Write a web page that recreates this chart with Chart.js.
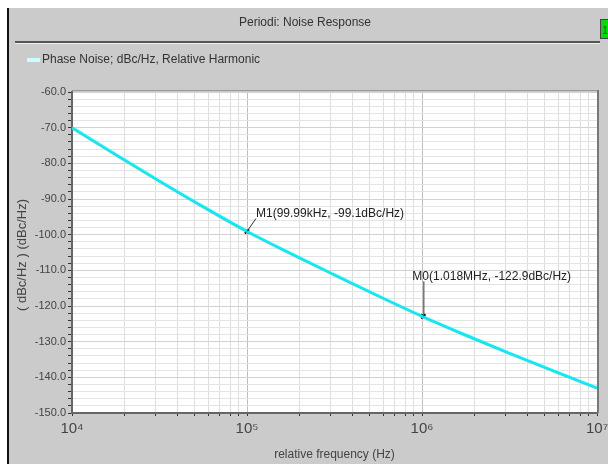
<!DOCTYPE html>
<html>
<head>
<meta charset="utf-8">
<style>
  html, body { margin: 0; padding: 0; background: #ffffff; }
  #wrap { width: 608px; height: 464px; }
</style>
<script src="https://cdn.jsdelivr.net/npm/chart.js@4"></script>
</head>
<body>
<div id="wrap"><canvas id="noiseChart" width="608" height="464"></canvas></div>
<script>
// phase noise curve (Hz, dBc/Hz)
const freqs = [1e4, 1.778e4, 3.162e4, 5.623e4, 1e5, 1.778e5, 3.162e5, 5.623e5, 1e6, 1.778e6, 3.162e6, 5.623e6, 1e7];
const noise = [-70, -77.6, -85.0, -92.2, -99.1, -105.3, -111.3, -117.2, -122.9, -128.2, -133.3, -138.2, -143.0];

// markers
const markerNames = ['M1', 'M0'];
const markerFreqs = [99990, 1018000];
const markerVals = [-99.1, -122.9];
const markerTexts = ['M1(99.99kHz, -99.1dBc/Hz)', 'M0(1.018MHz, -122.9dBc/Hz)'];

// axis ticks
const decades = [1e4, 1e5, 1e6, 1e7];
const decadeLabels = ['10\u2074', '10\u2075', '10\u2076', '10\u2077'];
const yMin = -150, yMax = -60;

const FONT = '"Liberation Sans", Arial, sans-serif';

function buildLogTicks() {
  const t = [];
  for (let d = 0; d < decades.length - 1; d++) {
    for (let m = 1; m <= 9; m++) t.push({ value: decades[d] * m });
  }
  t.push({ value: decades[decades.length - 1] });
  return t;
}

function isDecade(v) {
  return decades.some(d => Math.abs(v - d) / d < 1e-6);
}

const framePlugin = {
  id: 'frame',
  beforeDraw(chart) {
    const ctx = chart.ctx;
    const a = chart.chartArea;
    ctx.save();
    ctx.fillStyle = '#ffffff';
    ctx.fillRect(0, 0, 608, 464);
    ctx.fillStyle = '#cbcbcb';
    ctx.fillRect(8, 8, 600, 456);
    // left black border
    ctx.fillStyle = '#111111';
    ctx.fillRect(7, 8, 2, 456);
    // header line
    ctx.fillStyle = '#555555';
    ctx.fillRect(15, 41, 585, 2);
    ctx.fillStyle = '#f0f0f0';
    ctx.fillRect(15, 43, 585, 1);
    // title
    ctx.fillStyle = '#333333';
    ctx.font = '12px ' + FONT;
    ctx.textAlign = 'center';
    ctx.textBaseline = 'middle';
    ctx.fillText('Periodi: Noise Response', 305, 23);
    // green tag
    ctx.fillStyle = '#00dd00';
    ctx.fillRect(600, 19, 8, 20);
    ctx.strokeStyle = '#444444';
    ctx.lineWidth = 1;
    ctx.strokeRect(600.5, 19.5, 8, 19);
    ctx.fillStyle = '#224422';
    ctx.font = '10px ' + FONT;
    ctx.fillText('1', 605, 31);
    // legend
    ctx.fillStyle = '#c8ffff';
    ctx.fillRect(27, 58, 13, 4);
    ctx.fillStyle = '#333333';
    ctx.font = '12px ' + FONT;
    ctx.textAlign = 'left';
    ctx.fillText(chart.data.datasets[0].label, 42, 60);
    // plot background
    ctx.fillStyle = '#ffffff';
    ctx.fillRect(a.left, a.top, a.right - a.left, a.bottom - a.top);
    // y title
    ctx.translate(22, 255);
    ctx.rotate(-Math.PI / 2);
    ctx.textAlign = 'center';
    ctx.font = '13px ' + FONT;
    ctx.fillStyle = '#444444';
    ctx.fillText('( dBc/Hz ) (dBc/Hz)', 0, 0);
    ctx.restore();
  },
  afterDraw(chart) {
    const ctx = chart.ctx;
    const a = chart.chartArea;
    const xs = chart.scales.x, ys = chart.scales.y;
    ctx.save();
    // plot right border
    ctx.fillStyle = '#777777';
    ctx.fillRect(a.right, a.top - 2, 2, a.bottom - a.top + 2);
    ctx.fillStyle = '#999999';
    ctx.fillRect(a.left, a.top - 2, a.right - a.left, 1);
    // marker labels
    ctx.strokeStyle = '#333333';
    ctx.lineWidth = 1;
    ctx.fillStyle = '#222222';
    ctx.font = '12px ' + FONT;
    ctx.textBaseline = 'middle';
    ctx.textAlign = 'left';
    for (let i = 0; i < markerFreqs.length; i++) {
      const px = xs.getPixelForValue(markerFreqs[i]);
      const py = ys.getPixelForValue(markerVals[i]);
      ctx.beginPath();
      if (markerNames[i] === 'M1') {
        ctx.moveTo(px, py);
        ctx.lineTo(px + 9, py - 13);
        ctx.stroke();
        ctx.fillText(markerTexts[i], px + 9, py - 18);
      } else {
        ctx.moveTo(px + 0.5, py);
        ctx.lineTo(px + 0.5, py - 35);
        ctx.stroke();
        ctx.fillText(markerTexts[i], px - 11, py - 40);
      }
    }
    ctx.restore();
  }
};

const ctx = document.getElementById('noiseChart').getContext('2d');
const noiseChart = new Chart(ctx, {
  type: 'line',
  data: {
    datasets: [{
      label: 'Phase Noise; dBc/Hz, Relative Harmonic',
      data: freqs.map((f, i) => ({ x: f, y: noise[i] })),
      borderColor: '#12e8f2',
      borderWidth: 3,
      pointRadius: 0,
      cubicInterpolationMode: 'monotone',
      fill: false
    }, {
      label: 'markers',
      data: markerFreqs.map((f, i) => ({ x: f, y: markerVals[i] })),
      showLine: false,
      pointStyle: 'crossRot',
      pointRadius: 3,
      borderColor: '#111111',
      borderWidth: 2
    }]
  },
  options: {
    responsive: false,
    animation: false,
    layout: { padding: { top: 92, right: 11, left: 0, bottom: 0 } },
    plugins: {
      legend: { display: false },
      tooltip: { enabled: false }
    },
    scales: {
      x: {
        type: 'logarithmic',
        min: decades[0],
        max: decades[decades.length - 1],
        afterBuildTicks: s => { s.ticks = buildLogTicks(); },
        afterFit: s => { s.height = 51; s.paddingLeft = 0; s.paddingRight = 0; },
        grid: {
          color: c => isDecade(c.tick.value) ? '#bdbdbd' : '#dedede',
          lineWidth: 1,
          tickLength: 3,
          tickColor: '#333333'
        },
        border: { color: '#666666', width: 2 },
        ticks: {
          autoSkip: false,
          maxRotation: 0,
          minRotation: 0,
          padding: 4,
          color: '#444444',
          font: { size: 15, family: FONT },
          callback: v => {
            const k = decades.findIndex(d => Math.abs(v - d) / d < 1e-6);
            return k >= 0 ? decadeLabels[k] : '';
          }
        },
        title: {
          display: true,
          text: 'relative frequency (Hz)',
          color: '#444444',
          font: { size: 12, family: FONT },
          padding: { top: 0, bottom: 2 }
        }
      },
      y: {
        min: yMin,
        max: yMax,
        afterFit: s => { s.width = 72; },
        ticks: {
          stepSize: 2,
          autoSkip: false,
          color: '#444444',
          font: { size: 11, family: FONT },
          padding: 2,
          callback: v => (v % 10 === 0 ? v.toFixed(1) : '')
        },
        grid: {
          color: c => (c.tick.value % 10 === 0 ? '#d2d2d2' : '#e4e4e4'),
          lineWidth: 1,
          tickLength: 4,
          tickColor: '#333333'
        },
        border: { color: '#666666', width: 2 }
      }
    }
  },
  plugins: [framePlugin]
});
</script>
</body>
</html>
